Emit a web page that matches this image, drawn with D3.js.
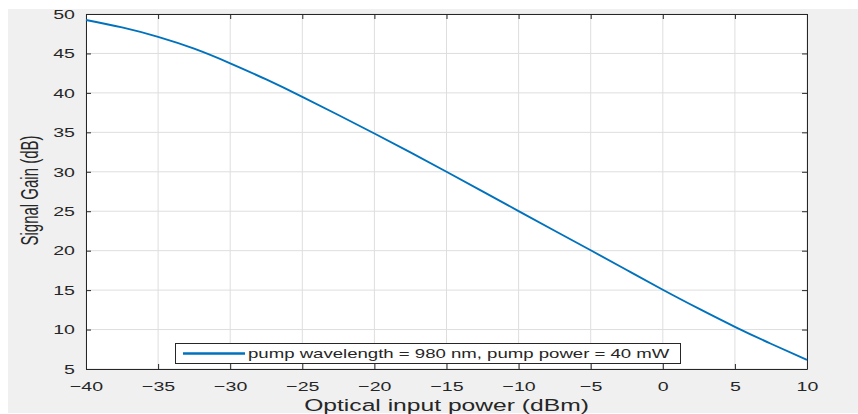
<!DOCTYPE html>
<html>
<head>
<meta charset="utf-8">
<script src="https://cdn.jsdelivr.net/npm/d3@7"></script>
<style>
  body { margin: 0; background: #fff; }
  text { font-family: "Liberation Sans", Arial, sans-serif; fill: #262626; }
</style>
</head>
<body>
<div id="chart"></div>
<script>
// Signal gain vs optical input power

const inputPower = [-40, -37.5, -35, -32.5, -30, -27.5, -25, -22.5, -20, -17.5, -15, -12.5, -10, -7.5, -5, -2.5, 0, 2.5, 5, 7.5, 10]
const signalGain = [49.24, 48.3, 47.1, 45.6, 43.75, 41.7, 39.5, 37.2, 34.85, 32.45, 30.0, 27.52, 25.02, 22.52, 20.05, 17.55, 15.05, 12.65, 10.35, 8.2, 6.15]
const xTicks = [-40, -35, -30, -25, -20, -15, -10, -5, 0, 5, 10]
const yTicks = [5, 10, 15, 20, 25, 30, 35, 40, 45, 50]
const legendLabel = 'pump wavelength = 980 nm, pump power = 40 mW'

const width = 858
const height = 414
const plot = { left: 86, right: 807, top: 14, bottom: 369 }
// the picture's text is stretched sideways
const sx = 1.45

const svg = d3.select('#chart')
  .append('svg')
  .attr('width', width)
  .attr('height', height)

// grey figure background
svg.append('rect')
  .attr('x', 8).attr('y', 9)
  .attr('width', width - 8).attr('height', 404)
  .attr('fill', '#f0f0f0')

svg.append('rect')
  .attr('x', plot.left).attr('y', plot.top)
  .attr('width', plot.right - plot.left).attr('height', plot.bottom - plot.top)
  .attr('fill', '#fff')

const x = d3.scaleLinear().domain([-40, 10]).range([plot.left, plot.right])
const y = d3.scaleLinear().domain([5, 50]).range([plot.bottom, plot.top])

// grid
svg.append('g')
  .selectAll('line')
  .data(xTicks)
  .join('line')
  .attr('x1', d => x(d)).attr('x2', d => x(d))
  .attr('y1', plot.top).attr('y2', plot.bottom)
  .attr('stroke', '#dedede')
svg.append('g')
  .selectAll('line')
  .data(yTicks)
  .join('line')
  .attr('x1', plot.left).attr('x2', plot.right)
  .attr('y1', d => y(d)).attr('y2', d => y(d))
  .attr('stroke', '#dedede')

// axes (ticks pointing inward, box on)
const styleAxis = g => {
  g.select('.domain').attr('stroke', '#262626')
  g.selectAll('.tick line').attr('stroke', '#262626')
  g.selectAll('.tick text').style('font-size', '13.5px').attr('fill', '#262626')
}

svg.append('g')
  .attr('transform', `translate(0,${plot.bottom})`)
  .call(d3.axisBottom(x).tickValues(xTicks).tickSize(-5).tickPadding(12).tickSizeOuter(0))
  .call(styleAxis)
  .call(g => g.selectAll('.tick text').attr('transform', `scale(${sx},1)`))

svg.append('g')
  .attr('transform', `translate(${plot.left},0)`)
  .call(d3.axisLeft(y).tickValues(yTicks).tickSize(-5).tickSizeOuter(0))
  .call(styleAxis)
  .call(g => g.selectAll('.tick text').attr('x', 0).attr('transform', `translate(-11,0) scale(${sx},1)`))

svg.append('g')
  .attr('transform', `translate(0,${plot.top})`)
  .call(d3.axisTop(x).tickValues(xTicks).tickSize(-5).tickFormat('').tickSizeOuter(0))
  .call(styleAxis)

svg.append('g')
  .attr('transform', `translate(${plot.right},0)`)
  .call(d3.axisRight(y).tickValues(yTicks).tickSize(-5).tickFormat('').tickSizeOuter(0))
  .call(styleAxis)

// curve
const line = d3.line()
  .x((d, i) => x(inputPower[i]))
  .y(d => y(d))
  .curve(d3.curveNatural)

svg.append('path')
  .datum(signalGain)
  .attr('d', line)
  .attr('fill', 'none')
  .attr('stroke', '#0072bd')
  .attr('stroke-width', 1.9)

// legend
const legend = svg.append('g')
legend.append('rect')
  .attr('x', 175.5).attr('y', 343.5)
  .attr('width', 505).attr('height', 20)
  .attr('fill', '#fff')
  .attr('stroke', '#262626')
legend.append('line')
  .attr('x1', 183).attr('x2', 245)
  .attr('y1', 353.5).attr('y2', 353.5)
  .attr('stroke', '#0072bd')
  .attr('stroke-width', 2.5)
legend.append('text')
  .attr('transform', `translate(248,358) scale(1.43,1)`)
  .style('font-size', '13px')
  .text(legendLabel)

// axis labels
svg.append('text')
  .attr('transform', `translate(${(plot.left + plot.right) / 2},411) scale(${sx},1)`)
  .attr('text-anchor', 'middle')
  .style('font-size', '17px')
  .text('Optical input power (dBm)')

svg.append('text')
  .attr('transform', `translate(30,${(plot.top + plot.bottom) / 2 - 1}) scale(1.6,1) rotate(-90)`)
  .attr('text-anchor', 'middle')
  .attr('dy', '0.35em')
  .style('font-size', '15px')
  .text('Signal Gain (dB)')
</script>
</body>
</html>
